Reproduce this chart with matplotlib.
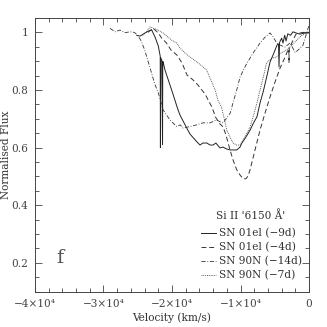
import matplotlib
matplotlib.use("Agg")
import matplotlib.pyplot as plt
from matplotlib.ticker import MultipleLocator, FixedLocator, FixedFormatter
import numpy as np

# ---- data (velocity in km/s, normalised flux) ----
v_9d = [-25150, -24670, -23940, -23500, -22960, -22800, -22480, -22000, -21750,
        -21720, -21690, -21660, -21500, -21380, -21350, -21300, -21020, -20050,
        -19120, -18830, -17850, -17370, -16400, -15910, -15500, -14900, -14450,
        -14000, -13600, -13000, -12550, -12100, -11530, -11100, -10550, -10070,
        -9800, -9200, -8600, -8180, -7600, -7150, -6700, -6280, -5690, -5100,
        -4670, -4450, -4380, -4300, -4000, -3800, -3550, -3350, -3100, -2700,
        -2340, -1900, -1310, -600, 0]
f_9d = [0.990, 0.987, 0.998, 1.004, 1.008, 1.000, 0.984, 0.953, 0.921,
        0.918, 0.600, 0.912, 0.905, 0.610, 0.900, 0.897, 0.869, 0.800,
        0.731, 0.713, 0.668, 0.647, 0.621, 0.609, 0.616, 0.616, 0.609,
        0.609, 0.616, 0.599, 0.602, 0.596, 0.592, 0.592, 0.592, 0.602,
        0.616, 0.637, 0.661, 0.682, 0.707, 0.755, 0.793, 0.835, 0.897, 0.930,
        0.956, 0.960, 0.880, 0.965, 0.980, 0.963, 0.990, 0.970, 0.995, 0.990,
        1.002, 0.998, 0.994, 0.998, 0.998]

v_4d = [-23500, -22800, -22000, -21500, -20800, -20150, -19270, -18540, -17810,
        -16930, -16200, -15180, -14200, -13580, -12990, -12550, -12120, -11530,
        -11090, -10550, -10070, -9630, -9200, -8900, -8610, -7880, -7150, -6420,
        -5690, -4960, -4230, -3500, -3070, -2950, -2920, -2890, -2770, -2340,
        -1900, -1310, -580, 0]
f_4d = [1.000, 1.015, 0.998, 0.980, 0.963, 0.939, 0.921, 0.894, 0.852,
        0.835, 0.817, 0.786, 0.742, 0.703, 0.682, 0.672, 0.644, 0.592,
        0.557, 0.523, 0.505, 0.492, 0.492, 0.502, 0.523, 0.592, 0.661, 0.720,
        0.776, 0.828, 0.876, 0.914, 0.939, 0.942, 0.894, 0.945, 0.949, 0.973,
        0.994, 0.998, 1.001, 1.000]

v_14d = [-29050, -28300, -27600, -26900, -26100, -25500, -25000, -24500, -24000,
         -23500, -23000, -22500, -22000, -21300, -20300, -19300, -18800, -18400,
         -17400, -16400, -15500, -14450, -13500, -13000, -12550, -12100, -11500,
         -11100, -10550, -10070, -9200, -8180, -7150, -6400, -5690, -5260, -4700,
         -4230, -3500, -2770, -2000, -1310, -880, -440, 0]
f_14d = [1.014, 1.002, 1.008, 0.999, 1.002, 1.000, 0.990, 0.970, 0.940,
         0.900, 0.860, 0.820, 0.790, 0.731, 0.696, 0.673, 0.679, 0.668,
         0.673, 0.679, 0.686, 0.686, 0.696, 0.690, 0.686, 0.700, 0.720,
         0.755, 0.800, 0.845, 0.887, 0.928, 0.963, 0.984, 0.998, 0.985, 0.963,
         0.956, 0.949, 0.963, 0.930, 0.945, 0.956, 0.990, 1.025]

v_7d = [-24300, -23700, -23200, -22800, -22000, -21300, -20600, -20050, -19300,
        -18830, -18100, -17370, -16200, -15600, -14950, -14450, -13700, -13300,
        -12800, -12400, -12000, -11500, -11100, -10550, -10070, -9600, -9200,
        -8600, -8200, -7600, -7150, -6700, -6200, -5500, -4700, -4100, -3300,
        -2600, -1800, -1200, -340, 0]
f_7d = [0.990, 1.002, 1.019, 1.015, 1.008, 0.998, 0.984, 0.973, 0.963,
        0.946, 0.928, 0.915, 0.894, 0.883, 0.869, 0.842, 0.800, 0.765,
        0.742, 0.703, 0.661, 0.634, 0.616, 0.609, 0.609, 0.627, 0.644,
        0.672, 0.703, 0.755, 0.800, 0.842, 0.894, 0.910, 0.915, 0.928, 0.939,
        0.953, 0.973, 0.987, 0.998, 1.000]

labels = ["SN 01el (\u22129d)", "SN 01el (\u22124d)", "SN 90N (\u221214d)", "SN 90N (\u22127d)"]
xtick_vals = [-40000, -30000, -20000, -10000, 0]
xtick_labels = ["\u22124\u00d710\u2074", "\u22123\u00d710\u2074", "\u22122\u00d710\u2074", "\u22121\u00d710\u2074", "0"]
ytick_vals = [0.2, 0.4, 0.6, 0.8, 1.0]
ytick_labels = ["0.2", "0.4", "0.6", "0.8", "1"]

plt.rcParams['font.family'] = ['DejaVu Serif']
fs = 7.6

fig = plt.figure(figsize=(3.27, 3.27), dpi=100)
ax = fig.add_axes([0.107, 0.108, 0.838, 0.837])

lc = '#333333'
ax.plot(v_9d, f_9d, color='#222222', lw=0.7, ls='-', label=labels[0])
ax.plot(v_4d, f_4d, color=lc, lw=0.7, ls=(0, (5, 3)), label=labels[1])
ax.plot(v_14d, f_14d, color=lc, lw=0.6, ls=(0, (5, 2, 1, 2)), label=labels[2])
ax.plot(v_7d, f_7d, color=lc, lw=0.6, ls=(0, (1, 1.2)), label=labels[3])

ax.set_xlim(-40000, 0)
ax.set_ylim(0.1, 1.05)
ax.xaxis.set_major_locator(FixedLocator(xtick_vals))
ax.xaxis.set_major_formatter(FixedFormatter(xtick_labels))
ax.xaxis.set_minor_locator(MultipleLocator(2000))
ax.yaxis.set_major_locator(FixedLocator(ytick_vals))
ax.yaxis.set_major_formatter(FixedFormatter(ytick_labels))
ax.yaxis.set_minor_locator(MultipleLocator(0.05))
ax.tick_params(which='both', direction='in', top=True, right=True,
               labelsize=fs, colors='#444444', width=0.6)
ax.tick_params(which='major', length=5, pad=5)
ax.tick_params(which='minor', length=2.6)
for s in ax.spines.values():
    s.set_color('#444444')
    s.set_linewidth(0.7)

ax.set_xlabel("Velocity (km/s)", fontsize=fs, color='#333333', labelpad=3)
ax.set_ylabel("Normalised Flux", fontsize=fs, color='#333333')
ax.yaxis.set_label_coords(-0.088, 0.5)

leg = ax.legend(loc='lower right', bbox_to_anchor=(0.975, 0.04), frameon=False,
                fontsize=fs, handlelength=1.4, handletextpad=0.3,
                labelspacing=0.35, borderpad=0, borderaxespad=0)
for t in leg.get_texts():
    t.set_color('#333333')
ax.text(0.66, 0.277, "Si II '6150 \u00c5'", transform=ax.transAxes,
        fontsize=fs, va='center', ha='left', color='#333333')
ax.text(0.077, 0.105, "f", transform=ax.transAxes, fontsize=14,
        va='baseline', ha='left', color='#555555')

fig.savefig("out.png", dpi=100)
